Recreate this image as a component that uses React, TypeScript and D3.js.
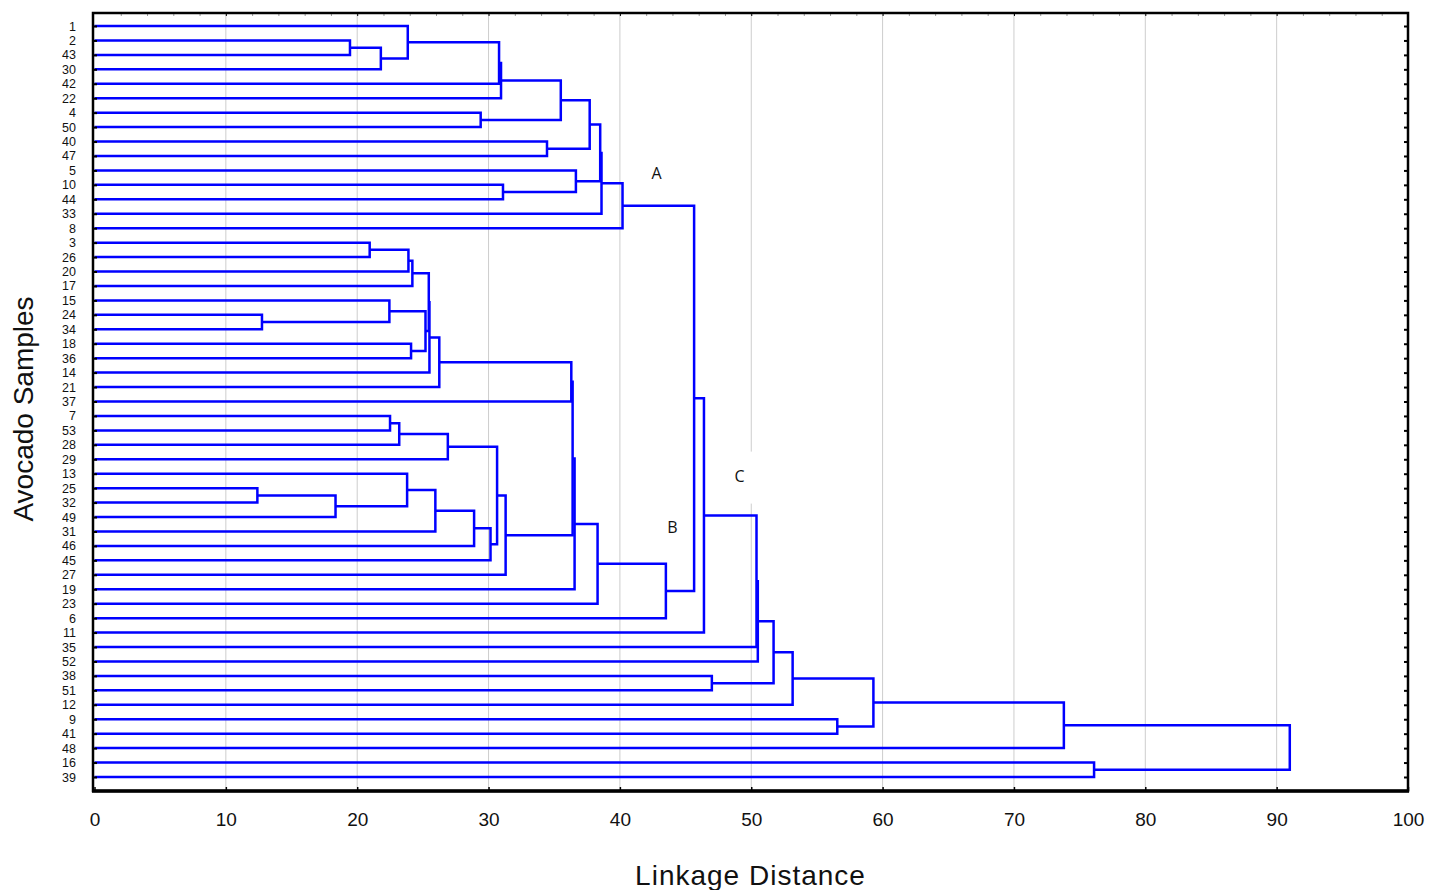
import React, { useEffect, useRef } from 'react';
import * as d3 from 'd3';

// sample labels, top to bottom as they appear on the axis
const leaves = [
  '1', '2', '43', '30', '42', '22', '4', '50', '40', '47', '5', '10', '44', '33', '8',
  '3', '26', '20', '17', '15', '24', '34', '18', '36', '14', '21', '37',
  '7', '53', '28', '29', '13', '25', '32', '49', '31', '46', '45', '27', '19', '23', '6',
  '11', '35', '52', '38', '51', '12', '9', '41', '48', '16', '39',
];

// linkage steps: [left, right, distance]; "cN" is the cluster made by step N
const merges: [string, string, number][] = [
  ['24', '34', 12.75],
  ['25', '32', 12.4],
  ['c1', '49', 18.35],
  ['2', '43', 19.45],
  ['3', '26', 20.95],
  ['c3', '30', 21.8],
  ['15', 'c0', 22.45],
  ['7', '53', 22.5],
  ['c7', '28', 23.2],
  ['13', 'c2', 23.8],
  ['1', 'c5', 23.85],
  ['c4', '20', 23.9],
  ['18', '36', 24.1],
  ['c11', '17', 24.2],
  ['c6', 'c12', 25.2],
  ['c13', 'c14', 25.45],
  ['c15', '14', 25.5],
  ['c9', '31', 25.95],
  ['c16', '21', 26.25],
  ['c8', '29', 26.9],
  ['c17', '46', 28.9],
  ['4', '50', 29.4],
  ['c20', '45', 30.15],
  ['c19', 'c22', 30.65],
  ['c10', '42', 30.8],
  ['c24', '22', 30.95],
  ['10', '44', 31.1],
  ['c23', '27', 31.3],
  ['40', '47', 34.45],
  ['c25', 'c21', 35.5],
  ['c18', '37', 36.3],
  ['c30', 'c27', 36.4],
  ['c31', '19', 36.55],
  ['5', 'c26', 36.65],
  ['c29', 'c28', 37.7],
  ['c32', '23', 38.3],
  ['c34', 'c33', 38.5],
  ['c36', '33', 38.6],
  ['c37', '8', 40.2],
  ['c35', '6', 43.5],
  ['c38', 'c39', 45.65],
  ['c40', '11', 46.4],
  ['38', '51', 47.0],
  ['c41', '35', 50.4],
  ['c43', '52', 50.5],
  ['c44', 'c42', 51.7],
  ['c45', '12', 53.15],
  ['9', '41', 56.55],
  ['c46', 'c47', 59.3],
  ['c48', '48', 73.8],
  ['16', '39', 76.1],
  ['c49', 'c50', 91.0],
];

const xTicks = [0, 10, 20, 30, 40, 50, 60, 70, 80, 90, 100];

// group annotations: text, distance, row position (fractional leaf index)
const groupText = ['A', 'B', 'C'];
const groupDist = [42.8, 44.0, 49.1];
const groupRow = [10.2, 34.75, 31.2];

function App() {
  const chartRef = useRef<SVGSVGElement>(null);

  useEffect(() => {
    const width = 1445;
    const height = 890;
    const left = 93;
    const right = 1408;
    const top = 13;
    const bottom = 791;

    const svg = d3.select(chartRef.current);
    svg.selectAll('*').remove();
    svg.attr('width', width).attr('height', height);

    const x = d3.scaleLinear().domain([0, 100]).range([94.5, 1408]);
    const y = d3.scalePoint<string>().domain(leaves).range([26, 777]);
    const step = y.step();
    const rowY = (r: number) => 26 + r * step;

    // vertical grid
    svg
      .append('g')
      .selectAll('line')
      .data(xTicks.slice(1, -1))
      .enter()
      .append('line')
      .attr('x1', (d) => x(d))
      .attr('x2', (d) => x(d))
      .attr('y1', top)
      .attr('y2', bottom)
      .attr('stroke', '#cdcdcd')
      .attr('stroke-width', 1);

    // white box behind label C
    svg
      .append('rect')
      .attr('x', x(groupDist[2]) - 16)
      .attr('y', rowY(groupRow[2]) - 25)
      .attr('width', 32)
      .attr('height', 52)
      .attr('fill', '#fff');

    // build node positions
    const nodes = new Map<string, { y: number; h: number }>();
    leaves.forEach((l) => nodes.set(l, { y: y(l) as number, h: 0 }));

    const links = merges.map(([a, b, h], i) => {
      const na = nodes.get(a)!;
      const nb = nodes.get(b)!;
      nodes.set('c' + i, { y: (na.y + nb.y) / 2, h });
      return { a: na, b: nb, h };
    });

    svg
      .append('g')
      .selectAll('path')
      .data(links)
      .enter()
      .append('path')
      .attr(
        'd',
        (d) =>
          `M${x(d.a.h)},${d.a.y}H${x(d.h)}V${d.b.y}H${x(d.b.h)}`
      )
      .attr('fill', 'none')
      .attr('stroke', '#0000ff')
      .attr('stroke-width', 2.5);

    // axes
    const font = 'Liberation Sans, Arial, sans-serif';

    const xAxis = svg
      .append('g')
      .attr('transform', `translate(0,${bottom})`)
      .call(d3.axisBottom(x).tickValues(xTicks).tickSizeInner(-4).tickSizeOuter(0).tickPadding(22));
    xAxis.select('.domain').remove();
    xAxis.selectAll('text').attr('font-size', 19).attr('font-family', font).attr('fill', '#111');
    xAxis.selectAll('line').attr('stroke', '#000').attr('stroke-width', 1.5);

    const topAxis = svg
      .append('g')
      .attr('transform', `translate(0,${top})`)
      .call(d3.axisTop(x).tickValues(d3.range(2, 100, 2)).tickSizeInner(-3).tickSizeOuter(0).tickFormat(() => ''));
    topAxis.select('.domain').remove();
    topAxis.selectAll('line').attr('stroke', (d: any) => (d % 10 === 0 ? '#000' : '#999'));

    // sample labels kept small enough that neighbouring rows do not collide
    const yAxis = svg
      .append('g')
      .attr('transform', `translate(${left},0)`)
      .call(d3.axisLeft(y).tickSizeInner(-4).tickSizeOuter(0).tickPadding(17));
    yAxis.select('.domain').remove();
    yAxis.selectAll('text').attr('font-size', 12.5).attr('font-family', font).attr('fill', '#111');
    yAxis.selectAll('line').attr('stroke', '#000').attr('stroke-width', 2);

    const rAxis = svg
      .append('g')
      .attr('transform', `translate(${right},0)`)
      .call(d3.axisRight(y).tickSizeInner(-4).tickSizeOuter(0).tickFormat(() => ''));
    rAxis.select('.domain').remove();
    rAxis.selectAll('line').attr('stroke', '#000').attr('stroke-width', 2);

    // frame
    svg
      .append('rect')
      .attr('x', left)
      .attr('y', top)
      .attr('width', right - left)
      .attr('height', bottom - top)
      .attr('fill', 'none')
      .attr('stroke', '#000')
      .attr('stroke-width', 2.5);
    svg
      .append('line')
      .attr('x1', left - 1)
      .attr('x2', right + 1)
      .attr('y1', bottom)
      .attr('y2', bottom)
      .attr('stroke', '#000')
      .attr('stroke-width', 3.5);

    // group labels
    svg
      .append('g')
      .selectAll('text')
      .data(groupText)
      .enter()
      .append('text')
      .attr('x', (d, i) => x(groupDist[i]))
      .attr('y', (d, i) => rowY(groupRow[i]))
      .attr('dy', '0.35em')
      .attr('text-anchor', 'middle')
      .attr('font-family', 'Open Sans, Noto Sans, sans-serif')
      .attr('font-size', 16)
      .attr('fill', '#111')
      .text((d) => d);

    // axis titles
    svg
      .append('text')
      .attr('x', (left + right) / 2)
      .attr('y', 885)
      .attr('text-anchor', 'middle')
      .attr('font-family', font)
      .attr('font-size', 28)
      .attr('letter-spacing', 1)
      .attr('fill', '#111')
      .text('Linkage Distance');

    svg
      .append('text')
      .attr('transform', `translate(33,${(top + bottom) / 2 + 7}) rotate(-90)`)
      .attr('text-anchor', 'middle')
      .attr('font-family', font)
      .attr('font-size', 28)
      .attr('fill', '#111')
      .text('Avocado Samples');
  }, []);

  return (
    <div>
      <svg ref={chartRef} style={{ position: 'absolute', left: 0, top: 0, background: '#fff' }}></svg>
    </div>
  );
}

export default App;
